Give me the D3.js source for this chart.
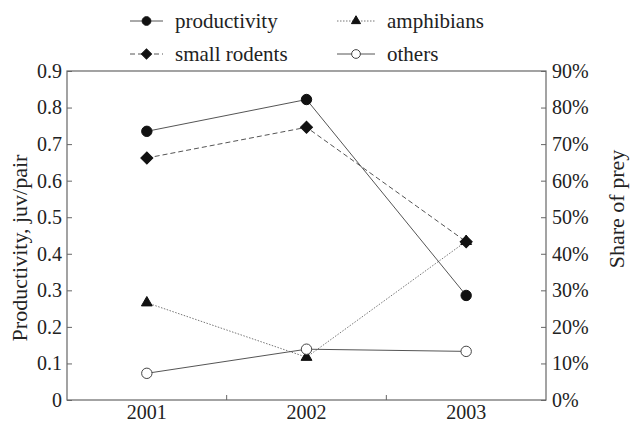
<!DOCTYPE html>
<html>
<head>
<meta charset="utf-8">
<script src="https://cdn.jsdelivr.net/npm/d3@7"></script>
<style>
body { margin: 0; background: #fff; }
svg text { font-family: "Liberation Serif", "DejaVu Serif", serif !important; fill: #222; }
</style>
</head>
<body>
<svg width="632" height="423"></svg>
<script>

var years = ["2001", "2002", "2003"];
var productivity = [0.735, 0.822, 0.286];     // left axis, juv/pair
var smallRodents = [66.2, 74.6, 43.3];        // right axis, %
var amphibians = [26.6, 11.7, 43.4];
var others = [7.3, 13.9, 13.3];
var leftTicks = [0, 0.1, 0.2, 0.3, 0.4, 0.5, 0.6, 0.7, 0.8, 0.9];
var rightTicks = [0, 10, 20, 30, 40, 50, 60, 70, 80, 90];

var svg = d3.select("svg"),
    plotL = 67, plotR = 546, plotT = 71, plotB = 400;

var x = d3.scaleBand().domain(years).range([plotL, plotR]).padding(0);
var yL = d3.scaleLinear().domain([0, 0.9]).range([plotB, plotT]);
var yR = d3.scaleLinear().domain([0, 90]).range([plotB, plotT]);

var axisColor = "#666";

// frame
svg.append("rect")
    .attr("x", plotL).attr("y", plotT)
    .attr("width", plotR - plotL).attr("height", plotB - plotT)
    .attr("fill", "none").attr("stroke", axisColor).attr("stroke-width", 1.2);

// left axis
var gl = svg.append("g").attr("transform", "translate(" + plotL + ",0)")
    .call(d3.axisLeft(yL).tickValues(leftTicks).tickSize(-5).tickPadding(5)
        .tickFormat(function(d) { return d === 0 ? "0" : d3.format(".1f")(d); }));
gl.attr("font-family", null);
gl.select(".domain").remove();
gl.selectAll("line").attr("stroke", axisColor);
gl.selectAll("text").attr("font-size", 20).attr("fill", "#222");

// right axis
var gr = svg.append("g").attr("transform", "translate(" + plotR + ",0)")
    .call(d3.axisRight(yR).tickValues(rightTicks).tickSize(-5).tickPadding(6)
        .tickFormat(function(d) { return d + "%"; }));
gr.attr("font-family", null);
gr.select(".domain").remove();
gr.selectAll("line").attr("stroke", axisColor);
gr.selectAll("text").attr("font-size", 20).attr("fill", "#222");

// bottom axis: labels at band centres, ticks at band boundaries
var gb = svg.append("g").attr("transform", "translate(0," + plotB + ")")
    .call(d3.axisBottom(x).tickSize(0).tickPadding(5));
gb.attr("font-family", null);
gb.select(".domain").remove();
gb.selectAll("text").attr("font-size", 20).attr("fill", "#222");
svg.selectAll(".bt").data(years.slice(1)).enter().append("line")
    .attr("x1", function(d) { return x(d); }).attr("x2", function(d) { return x(d); })
    .attr("y1", plotB).attr("y2", plotB - 5)
    .attr("stroke", axisColor);

// axis titles
svg.append("text")
    .attr("transform", "translate(27,248) rotate(-90)")
    .attr("text-anchor", "middle").attr("font-size", 22)
    .text("Productivity, juv/pair");
svg.append("text")
    .attr("transform", "translate(624,209) rotate(-90)")
    .attr("text-anchor", "middle").attr("font-size", 22)
    .text("Share of prey");

var cx = function(i) { return x(years[i]) + x.bandwidth() / 2; };

var series = [
  { name: "productivity", values: productivity, y: yL, dash: null, color: "#555", marker: "circle", fill: "#111" },
  { name: "small rodents", values: smallRodents, y: yR, dash: "5,3", color: "#555", marker: "diamond", fill: "#111" },
  { name: "amphibians", values: amphibians, y: yR, dash: "1.5,1.5", color: "#777", marker: "triangle", fill: "#111" },
  { name: "others", values: others, y: yR, dash: null, color: "#555", marker: "open", fill: "#fff" }
];

var symbolFor = function(m, size) {
  if (m === "diamond") return d3.symbol().type(d3.symbolSquare).size(size * 0.85)();
  if (m === "triangle") return d3.symbol().type(d3.symbolTriangle).size(size * 0.6)();
  return d3.symbol().type(d3.symbolCircle).size(size)();
};

series.forEach(function(s) {
  var line = d3.line()
      .x(function(d, i) { return cx(i); })
      .y(function(d) { return s.y(d); });
  svg.append("path")
      .datum(s.values)
      .attr("d", line)
      .attr("fill", "none")
      .attr("stroke", s.color)
      .attr("stroke-width", 1)
      .attr("stroke-dasharray", s.dash);
});

series.forEach(function(s) {
  svg.selectAll(null).data(s.values).enter().append("path")
      .attr("d", symbolFor(s.marker, 85))
      .attr("transform", function(d, i) {
        return "translate(" + cx(i) + "," + s.y(d) + ")" + (s.marker === "diamond" ? " rotate(45)" : "");
      })
      .attr("fill", s.fill)
      .attr("stroke", s.marker === "open" ? "#444" : "#111")
      .attr("stroke-width", 1);
});

// legend
var legendPos = [
  { x: 130, y: 21 }, { x: 130, y: 54 }, { x: 337, y: 21 }, { x: 337, y: 54 }
];
var legendW = [33, 33, 38, 38];
series.forEach(function(s, i) {
  var p = legendPos[i], w = legendW[i];
  var g = svg.append("g").attr("transform", "translate(" + p.x + "," + p.y + ")");
  g.append("line").attr("x1", 0).attr("x2", w).attr("y1", 0).attr("y2", 0)
      .attr("stroke", s.color).attr("stroke-width", 1).attr("stroke-dasharray", s.dash);
  g.append("path")
      .attr("d", symbolFor(s.marker, 60))
      .attr("transform", "translate(" + (w / 2) + ",0)" + (s.marker === "diamond" ? " rotate(45)" : ""))
      .attr("fill", s.fill)
      .attr("stroke", s.marker === "open" ? "#444" : "#111");
  g.append("text").attr("x", w + 12).attr("y", 0).attr("dy", "0.32em")
      .attr("font-size", 21).text(s.name);
});

</script>
</body>
</html>
